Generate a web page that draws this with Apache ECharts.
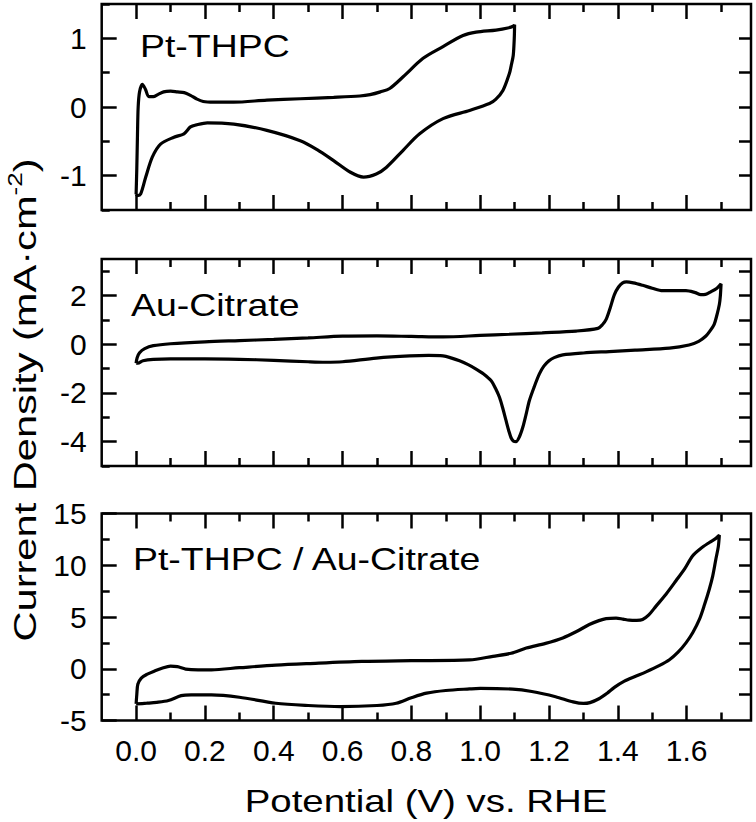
<!DOCTYPE html>
<html><head><meta charset="utf-8">
<script src="https://cdn.jsdelivr.net/npm/echarts@6/dist/echarts.min.js"></script>
<style>html,body{margin:0;padding:0;background:#fff}#c{width:756px;height:822px}</style>
</head><body><div id="c"></div>
<script>
const FONT = '"Liberation Sans", Arial, Helvetica, sans-serif';

// ---------- axes / ticks ----------
const X_MIN = -0.1, X_MAX = 1.787;
const xMajorTicks = [0, 0.2, 0.4, 0.6, 0.8, 1.0, 1.2, 1.4, 1.6];
const xMinorTicks = [0.1, 0.3, 0.5, 0.7, 0.9, 1.1, 1.3, 1.5, 1.7];
const xTickLabels = ['0.0', '0.2', '0.4', '0.6', '0.8', '1.0', '1.2', '1.4', '1.6'];

const panelNames = ['Pt-THPC', 'Au-Citrate', 'Pt-THPC / Au-Citrate'];
const yRanges = [[-1.5, 1.5], [-5, 3.5], [-5, 15]];
const yMajorTicks = [[-1, 0, 1], [-4, -2, 0, 2], [-5, 0, 5, 10, 15]];
const yTickLabels = [['-1', '0', '1'], ['-4', '-2', '0', '2'], ['-5', '0', '5', '10', '15']];
const yMinorTicks = [[-1.5, -0.5, 0.5, 1.5], [-5, -3, -1, 1, 3], [-2.5, 2.5, 7.5, 12.5]];
const yRightTicks = [[-1, -0.5, 0, 0.5, 1], [-4, -3, -2, -1, 0, 1, 2, 3], [-2.5, 0, 2.5, 5, 7.5, 10, 12.5]];

const xTitle = 'Potential (V) vs. RHE';

// ---------- data: Pt-THPC ----------
const ptV = [0.000,0.002,0.004,0.006,0.010,0.018,0.027,0.037,0.050,0.063,0.080,0.100,0.120,0.140,0.158,0.175,0.195,0.225,0.283,0.380,0.477,0.574,0.650,0.680,0.710,0.737,0.776,0.834,0.892,0.950,0.988,1.046,1.080,1.097,1.100,
  1.099,1.096,1.090,1.085,1.066,1.045,1.027,0.969,0.892,0.824,0.776,0.727,0.698,0.661,0.623,0.574,0.526,0.477,0.380,0.284,0.207,0.175,0.158,0.139,0.110,0.071,0.047,0.028,0.013,0.004,0.000];
const ptI = [-1.27,-0.90,-0.40,0.00,0.22,0.33,0.26,0.15,0.15,0.18,0.22,0.23,0.22,0.21,0.17,0.12,0.08,0.07,0.07,0.10,0.12,0.14,0.16,0.18,0.22,0.27,0.44,0.71,0.88,1.04,1.09,1.12,1.15,1.18,1.20,
  1.00,0.75,0.60,0.49,0.24,0.11,0.05,-0.05,-0.17,-0.39,-0.63,-0.88,-0.975,-1.02,-0.95,-0.78,-0.62,-0.49,-0.34,-0.25,-0.23,-0.26,-0.29,-0.39,-0.44,-0.54,-0.73,-1.02,-1.27,-1.29,-1.27];

// ---------- data: Au-Citrate ----------
const auV = [0.000,0.003,0.010,0.025,0.050,0.100,0.200,0.300,0.400,0.500,0.600,0.700,0.800,0.892,1.000,1.085,1.180,1.279,1.342,1.355,1.366,1.378,1.390,1.402,1.414,1.425,1.445,1.472,1.500,1.530,1.560,1.598,1.625,1.641,1.655,1.670,1.688,1.700,
  1.698,1.695,1.688,1.680,1.668,1.656,1.635,1.607,1.550,1.450,1.375,1.300,1.240,1.215,1.200,1.185,1.172,1.157,1.143,1.133,1.124,1.114,1.104,1.097,1.090,1.083,1.075,1.066,1.056,1.044,1.032,1.010,0.988,0.965,0.940,0.915,0.892,0.850,0.795,0.698,0.600,0.550,0.500,0.400,0.300,0.200,0.100,0.050,0.020,0.005,0.000];
const auI = [-0.78,-0.55,-0.35,-0.18,-0.06,0.02,0.10,0.15,0.20,0.26,0.33,0.34,0.32,0.30,0.36,0.41,0.47,0.54,0.65,0.80,1.02,1.50,2.04,2.35,2.52,2.56,2.52,2.42,2.30,2.20,2.20,2.20,2.12,2.04,2.05,2.15,2.30,2.48,
  2.00,1.63,1.20,0.82,0.55,0.34,0.12,-0.03,-0.16,-0.24,-0.30,-0.36,-0.44,-0.55,-0.68,-0.90,-1.22,-1.75,-2.31,-2.90,-3.40,-3.80,-4.00,-3.98,-3.85,-3.55,-3.13,-2.65,-2.18,-1.80,-1.50,-1.22,-1.02,-0.84,-0.68,-0.56,-0.48,-0.46,-0.48,-0.57,-0.72,-0.74,-0.72,-0.66,-0.62,-0.60,-0.60,-0.62,-0.68,-0.78,-0.78];

// ---------- data: Pt-THPC / Au-Citrate ----------
const mixV = [0.000,0.002,0.005,0.015,0.031,0.055,0.075,0.100,0.120,0.144,0.180,0.219,0.300,0.406,0.500,0.656,0.800,0.969,1.037,1.090,1.134,1.190,1.240,1.280,1.317,1.345,1.366,1.395,1.415,1.433,1.455,1.472,1.490,1.511,1.540,1.569,1.595,1.617,1.640,1.666,1.685,1.695,
  1.692,1.685,1.676,1.666,1.652,1.637,1.618,1.598,1.575,1.550,1.520,1.482,1.450,1.419,1.390,1.369,1.345,1.319,1.300,1.270,1.219,1.150,1.094,1.000,0.969,0.900,0.844,0.800,0.756,0.700,0.594,0.500,0.406,0.300,0.219,0.160,0.131,0.094,0.060,0.031,0.000];
const mixI = [-3.40,-2.50,-1.50,-0.90,-0.55,-0.20,0.05,0.25,0.20,-0.03,-0.10,-0.10,0.10,0.35,0.50,0.71,0.78,0.85,1.20,1.50,2.00,2.45,2.98,3.60,4.27,4.65,4.85,4.90,4.80,4.70,4.68,4.76,5.20,6.05,7.20,8.50,9.70,10.90,11.60,12.20,12.60,12.90,
  11.80,10.60,9.00,7.70,6.20,4.76,3.50,2.50,1.60,0.87,0.30,-0.30,-0.75,-1.20,-1.80,-2.36,-2.90,-3.27,-3.35,-3.20,-2.70,-2.20,-1.97,-1.90,-1.95,-2.10,-2.36,-2.80,-3.33,-3.55,-3.66,-3.55,-3.33,-2.75,-2.52,-2.52,-2.60,-3.07,-3.25,-3.33,-3.40];

const seriesV = [ptV, auV, mixV];
const seriesI = [ptI, auI, mixI];

// ---------- layout ----------
const gridRects = [
  {left: 101.7, top: 4, width: 649.3, height: 206},
  {left: 101.7, top: 259, width: 649.3, height: 207},
  {left: 101.7, top: 513.5, width: 649.3, height: 207}
];
const labelPos = [[140, 46], [131, 305], [133, 559]];

function lookup(vals, labels, v) {
  const i = vals.findIndex(t => Math.abs(t - v) < 1e-6);
  return i >= 0 ? labels[i] : '';
}
const tickStyle = {color: '#000', width: 2.5};

function xax(g, pos, ticks, len, showLabel) {
  return {
    type: 'value', gridIndex: g, position: pos, min: X_MIN, max: X_MAX,
    axisLine: {show: false, onZero: false},
    splitLine: {show: false},
    axisTick: {show: true, inside: true, length: len, customValues: ticks, lineStyle: tickStyle},
    axisLabel: {show: showLabel, customValues: xMajorTicks, margin: 15, fontSize: 30, fontFamily: FONT, color: '#000',
      formatter: v => lookup(xMajorTicks, xTickLabels, v)}
  };
}
function yax(g, pos, p, ticks, len, showLabel) {
  return {
    type: 'value', gridIndex: g, position: pos, min: yRanges[p][0], max: yRanges[p][1],
    axisLine: {show: false, onZero: false},
    splitLine: {show: false},
    axisTick: {show: len > 0, inside: true, length: len, customValues: ticks.length ? ticks : undefined, lineStyle: tickStyle},
    axisLabel: {show: showLabel, customValues: yMajorTicks[p], margin: 15, fontSize: 30, fontFamily: FONT, color: '#000',
      formatter: v => lookup(yMajorTicks[p], yTickLabels[p], v)}
  };
}

const grid = [], xAxis = [], yAxis = [], series = [], graphic = [];
for (let p = 0; p < 3; p++) {
  const gA = grid.length;
  grid.push(Object.assign({show: true, borderColor: '#000', borderWidth: 2.5, backgroundColor: 'transparent', z: 5}, gridRects[p]));
  const gB = grid.length;
  grid.push(Object.assign({show: false}, gridRects[p]));
  const xi = xAxis.length;
  xAxis.push(xax(gA, 'bottom', xMajorTicks, 15, p === 2));
  xAxis.push(xax(gA, 'top', xMajorTicks, 15, false));
  xAxis.push(xax(gB, 'bottom', xMinorTicks, 8, false));
  xAxis.push(xax(gB, 'top', xMinorTicks, 8, false));
  const yi = yAxis.length;
  yAxis.push(yax(gA, 'left', p, yMajorTicks[p], 15, true));
  yAxis.push(yax(gA, 'right', p, yRightTicks[p], 12, false));
  yAxis.push(yax(gB, 'left', p, yMinorTicks[p], 8, false));
  yAxis.push(yax(gB, 'right', p, [], 0, false));
  series.push({
    type: 'line', name: panelNames[p], xAxisIndex: xi, yAxisIndex: yi,
    data: seriesV[p].map((v, i) => [v, seriesI[p][i]]),
    showSymbol: false, symbol: 'none', smooth: 0.3,
    lineStyle: {color: '#000', width: 3.2}
  });
  graphic.push({type: 'text', x: labelPos[p][0], y: labelPos[p][1], scaleX: 1.17,
    style: {text: panelNames[p], fontSize: 32, fontFamily: FONT, fill: '#000', align: 'left', verticalAlign: 'middle'}});
}
graphic.push({type: 'text', x: 426, y: 801, scaleX: 1.2,
  style: {text: xTitle, fontSize: 32, fontFamily: FONT, fill: '#000', align: 'center', verticalAlign: 'middle'}});
graphic.push({type: 'text', x: 23, y: 400, rotation: Math.PI / 2, scaleX: 1.3,
  style: {text: '{a|Current Density (mA·cm}{s|-2}{a|)}', fontSize: 32, fontFamily: FONT, fill: '#000',
    align: 'center', verticalAlign: 'middle',
    rich: {a: {fontSize: 32, fontFamily: FONT, fill: '#000', color: '#000', lineHeight: 36, verticalAlign: 'bottom'},
           s: {fontSize: 20, fontFamily: FONT, fill: '#000', color: '#000', lineHeight: 36, verticalAlign: 'top', padding: [0, 0, 12, 0]}}}});

const chart = echarts.init(document.getElementById('c'), null, {renderer: 'svg'});
chart.setOption({animation: false, backgroundColor: '#fff', grid, xAxis, yAxis, series, graphic});
</script></body></html>
